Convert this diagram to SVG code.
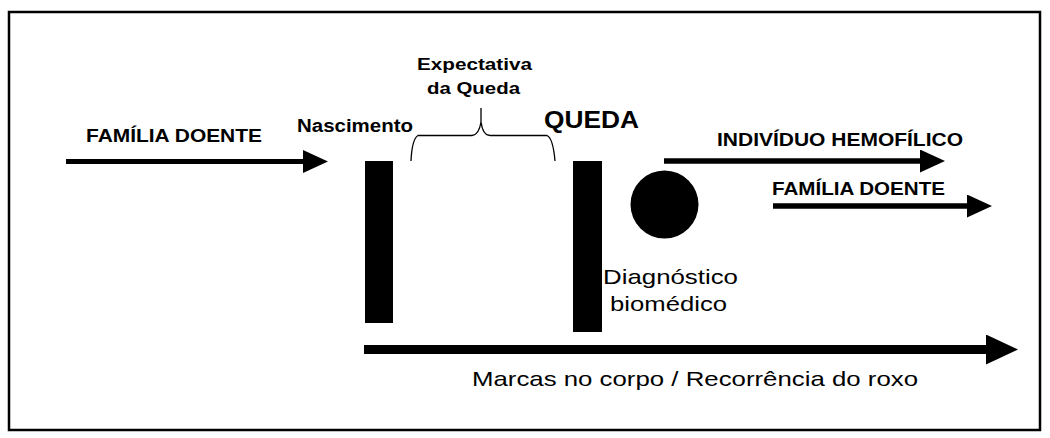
<svg xmlns="http://www.w3.org/2000/svg" width="1050" height="438" viewBox="0 0 1050 438">
<style>
.b{font-family:"Liberation Sans",Arial,sans-serif;font-weight:bold;fill:#000}
.r{font-family:"Liberation Sans",Arial,sans-serif;fill:#000}
.conn{stroke:#000;fill:none}
</style>
<defs>
<marker id="ah" markerUnits="userSpaceOnUse" markerWidth="25" markerHeight="23" refX="0" refY="11.5" orient="auto" viewBox="0 0 25 23"><path d="M0,0 L25,11.5 L0,23 z" fill="#000"/></marker>
<marker id="ahb" markerUnits="userSpaceOnUse" markerWidth="32" markerHeight="30" refX="0" refY="15" orient="auto" viewBox="0 0 32 30"><path d="M0,0 L32,15 L0,30 z" fill="#000"/></marker>
</defs>
<rect x="0" y="0" width="1050" height="438" fill="#fff"/>
<rect x="9" y="12" width="1031" height="418" fill="none" stroke="#000" stroke-width="2.5"/>

<g id="familia-doente-left"><text class="b" x="86" y="142" font-size="19" textLength="176" lengthAdjust="spacingAndGlyphs">FAMÍLIA DOENTE</text></g>
<g id="nascimento"><text class="b" x="297" y="132" font-size="18" textLength="116" lengthAdjust="spacingAndGlyphs">Nascimento</text>
<rect x="365" y="161" width="28" height="162" fill="#000"/></g>
<g id="expectativa"><text class="b" x="417" y="70" font-size="17" textLength="115" lengthAdjust="spacingAndGlyphs">Expectativa</text>
<text class="b" x="427" y="94" font-size="17" textLength="93" lengthAdjust="spacingAndGlyphs">da Queda</text>
<path class="conn" stroke-width="1.3" d="M411,161 Q412,139 418,135.5 L472,135.5 Q479,135 481,122 L481,108 M481,122 Q483,135.5 490,135.5 L547,135.5 Q553,138 555,161"/></g>
<g id="queda"><text class="b" x="544" y="128" font-size="23" textLength="95" lengthAdjust="spacingAndGlyphs">QUEDA</text>
<rect x="573" y="161" width="29" height="171" fill="#000"/></g>
<g id="diagnostico"><circle cx="664.5" cy="204.5" r="34" fill="#000"/>
<text class="r" x="603" y="284" font-size="21" textLength="135" lengthAdjust="spacingAndGlyphs">Diagnóstico</text>
<text class="r" x="610" y="311" font-size="21" textLength="117" lengthAdjust="spacingAndGlyphs">biomédico</text></g>
<g id="individuo"><text class="b" x="717" y="146" font-size="18.5" textLength="246" lengthAdjust="spacingAndGlyphs">INDIVÍDUO HEMOFÍLICO</text></g>
<g id="familia-doente-right"><text class="b" x="772" y="195" font-size="18.5" textLength="173" lengthAdjust="spacingAndGlyphs">FAMÍLIA DOENTE</text></g>
<g id="marcas"><text class="r" x="472" y="386" font-size="21" textLength="446" lengthAdjust="spacingAndGlyphs">Marcas no corpo / Recorrência do roxo</text></g>

<g id="connectors">
<line class="conn" x1="66" y1="161.5" x2="303" y2="161.5" stroke-width="5" marker-end="url(#ah)"/>
<line class="conn" x1="664" y1="161" x2="920" y2="161" stroke-width="5.5" marker-end="url(#ah)"/>
<line class="conn" x1="773" y1="206" x2="967" y2="206" stroke-width="5.5" marker-end="url(#ah)"/>
<line class="conn" x1="364" y1="349.5" x2="986" y2="349.5" stroke-width="9" marker-end="url(#ahb)"/>
</g>
</svg>
